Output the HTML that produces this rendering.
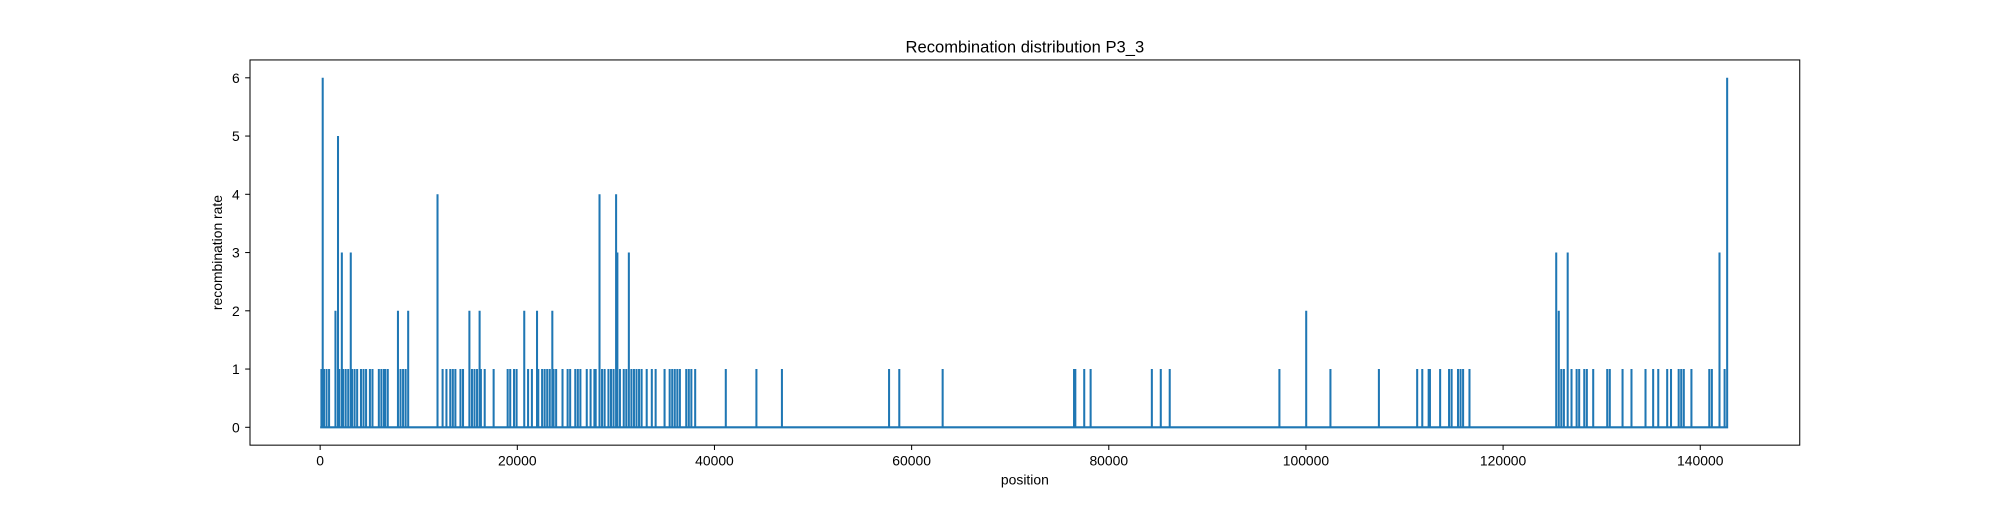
<!DOCTYPE html>
<html><head><meta charset="utf-8"><style>
body{margin:0;background:#fff}
svg text{font-family:"Liberation Sans","DejaVu Sans",sans-serif;fill:#000}
</style></head><body>
<svg id="chart" width="2000" height="500" viewBox="0 0 1568 392" xmlns="http://www.w3.org/2000/svg">
<rect width="1568" height="392" fill="#fff"/>
<text x="803.5" y="41" font-size="13" text-anchor="middle">Recombination distribution P3_3</text>
<g id="plot"></g>
<rect x="196" y="47" width="1215" height="302" fill="none" stroke="#000" stroke-width="0.8"/>
<text x="803.5" y="380" font-size="10.9" text-anchor="middle">position</text>
<text x="174" y="198" font-size="10.9" text-anchor="middle" transform="rotate(-90 174 198)">recombination rate</text>
</svg>
<script>
const positions=[129,259,388,647,906,1553,1812,1941,2200,2329,2588,2847,3106,3235,3494,3753,4141,4400,4659,5047,5306,5953,6211,6470,6600,6858,7893,8152,8411,8670,8929,11905,12422,12811,13199,13458,13716,14234,14493,15140,15399,15657,15916,16175,16304,16693,17598,19022,19281,19669,19928,20704,21092,21480,22000,22127,22516,22774,23033,23292,23551,23680,23939,24586,25104,25362,25880,26139,26398,27045,27433,27821,27950,28339,28597,28856,29245,29503,29762,30021,30150,30409,30797,31056,31315,31574,31832,32091,32350,32609,33126,33644,34032,34938,35456,35714,35973,36232,36491,37138,37396,37655,38043,41149,44255,46843,57712,58748,63147,76476,76605,77510,78158,84369,85275,86181,97309,100027,102485,107402,111284,111802,112449,112578,113613,114519,114778,115425,115684,115943,116590,125389,125647,125906,126165,126553,126941,127459,127718,128235,128494,129141,130564,130823,132117,133023,134446,135223,135740,136646,137034,137811,138070,138329,139105,140917,141176,141952,142470,142729];
const rates=[1,6,1,1,1,2,5,1,3,1, 1,1,3,1,1,1,1,1,1,1, 1,1,1,1,1,1,2,1,1,1, 2,4,1,1,1,1,1,1,1,2, 1,1,1,2,1,1,1,1,1,1, 1,2,1,1,2,1,1,1,1,1, 2,1,1,1,1,1,1,1,1,1, 1,1,1,4,1,1,1,1,1,4, 3,1,1,1,3,1,1,1,1,1, 1,1,1,1,1,1,1,1,1,1, 1,1,1,1,1,1,1,1,1,1, 1,1,1,1,1,1,1,2,1,1, 1,1,1,1,1,1,1,1,1,1, 1,3,2,1,1,3,1,1,1,1, 1,1,1,1,1,1,1,1,1,1, 1,1,1,1,1,1,1,3,1,6];
const xTicks=[0,20000,40000,60000,80000,100000,120000,140000];
const yTicks=[0,1,2,3,4,5,6];
const xStart=0,xEnd=142800;
const NS="http://www.w3.org/2000/svg";
const X=v=>251+v*1082/140000;
const Y=v=>335-v*(274/6);
const svg=document.getElementById('chart');
const plot=document.getElementById('plot');
function mk(t,a){const e=document.createElementNS(NS,t);for(const k in a)e.setAttribute(k,a[k]);return e;}
let d="M"+X(xStart)+","+Y(0);
positions.forEach((p,i)=>{const x=X(p).toFixed(2);d+=" L"+x+","+Y(0)+" L"+x+","+Y(rates[i]).toFixed(2)+" L"+x+","+Y(0);});
d+=" L"+X(xEnd)+","+Y(0);
const line=mk('path',{d:d,fill:'none',stroke:'#1f77b4','stroke-width':1.6,'stroke-linejoin':'miter'});


plot.appendChild(line);
xTicks.forEach(t=>{
 const tk=mk('line',{x1:X(t),x2:X(t),y1:349,y2:352.8,stroke:'#000','stroke-width':0.8});
 
 
 svg.appendChild(tk);
 const tx=mk('text',{x:X(t),y:365,'font-size':10.9,'text-anchor':'middle'});
 tx.textContent=t;
 
 
 svg.appendChild(tx);
});
yTicks.forEach(t=>{
 const tk=mk('line',{x1:192.2,x2:196,y1:Y(t),y2:Y(t),stroke:'#000','stroke-width':0.8});
 
 
 svg.appendChild(tk);
 const tx=mk('text',{x:188,y:Y(t)+4,'font-size':10.9,'text-anchor':'end'});
 tx.textContent=t;
 
 
 svg.appendChild(tx);
});
</script>
</body></html>
